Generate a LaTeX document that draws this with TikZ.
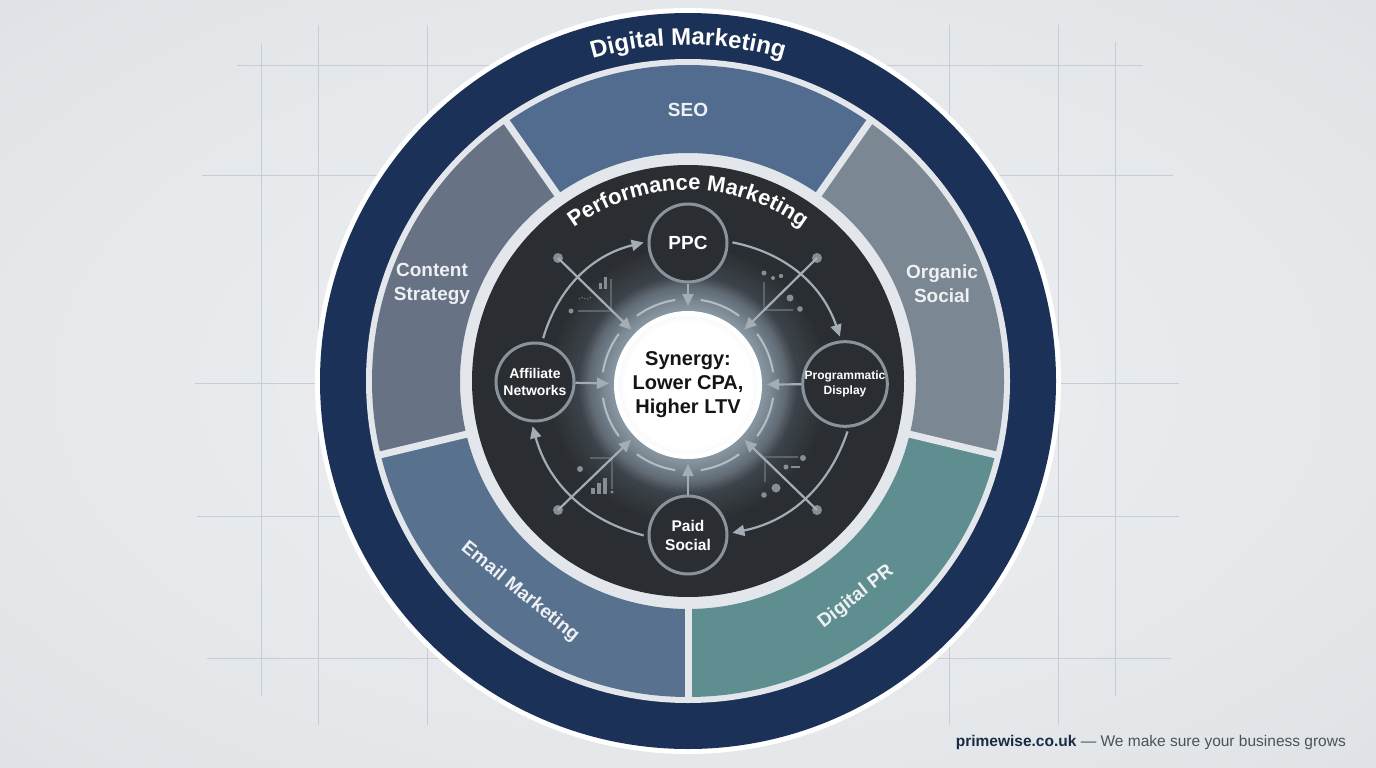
\documentclass[tikz,border=0pt]{standalone}
\usepackage{fontspec}
\setmainfont{Liberation Sans}
\usetikzlibrary{arrows.meta,decorations.text}
\definecolor{navy}{HTML}{1B3157}
\definecolor{gapc}{HTML}{E3E7EB}
\definecolor{seoc}{HTML}{516C8F}
\definecolor{contc}{HTML}{687285}
\definecolor{orgc}{HTML}{7B8793}
\definecolor{emailc}{HTML}{58718E}
\definecolor{dprc}{HTML}{5F8E90}
\definecolor{darkc}{HTML}{2A2D32}
\definecolor{nodeline}{HTML}{8A939C}
\definecolor{flowc}{HTML}{A3ADB6}
\definecolor{ringc}{HTML}{B4BEC7}
\definecolor{decor}{HTML}{858E97}
\definecolor{decline}{HTML}{5C656E}
\definecolor{gridc}{HTML}{C8CDD3}
\definecolor{segtext}{HTML}{EEF1F4}
\definecolor{footnavy}{HTML}{1B2A44}
\definecolor{footgray}{HTML}{4A525C}
\definecolor{glowc}{HTML}{AFC2D0}
\definecolor{ctredge}{HTML}{CFDBE3}
\definecolor{bgA}{HTML}{EEF0F2}
\definecolor{bgB}{HTML}{E3E6E9}
\definecolor{bgC}{HTML}{D2D7DC}
\pgfdeclareradialshading{ctrsh}{\pgfpointorigin}{color(0bp)=(white); color(22bp)=(white); color(35bp)=(ctredge); color(50bp)=(ctredge)}
\pgfdeclareradialshading{bgsh}{\pgfpointorigin}{color(0bp)=(bgA); color(30bp)=(bgB); color(50bp)=(bgC)}
\tikzset{
  gridln/.style={draw=gridc, line width=1pt},
  sat/.style={circle, draw=nodeline, line width=3pt, fill=darkc, text=white, align=center, minimum size=78pt, inner sep=0pt},
  ctr/.style={circle, draw=white, line width=5pt, shade, shading=ctrsh, minimum size=143pt, inner sep=0pt, align=center, text=black!92, font=\bfseries\fontsize{20pt}{24pt}\selectfont},
  flow/.style={draw=flowc, line width=2.2pt, -{Triangle[length=12pt,width=11pt]}},
  ringarc/.style={draw=ringc, line width=2pt},
  seglabel/.style={text=segtext, font=\bfseries\fontsize{19pt}{24pt}\selectfont, align=center, inner sep=0pt},
  decorline/.style={draw=decline, line width=1.6pt},
}
\begin{document}
\begin{tikzpicture}[x=1pt,y=-1pt]
\useasboundingbox (0,0) rectangle (1376,768);
\shade[shading=bgsh] (0,0) rectangle (1376,768);
% grid
\draw[gridln] (261,44) -- (261,696);
\draw[gridln] (318,25) -- (318,725);
\draw[gridln] (427,25) -- (427,725);
\draw[gridln] (949,25) -- (949,725);
\draw[gridln] (1058,25) -- (1058,725);
\draw[gridln] (1115,42) -- (1115,696);
\draw[gridln] (237,66) -- (1143,66);
\draw[gridln] (202,175) -- (1173,175);
\draw[gridln] (195,383) -- (1179,383);
\draw[gridln] (197,516) -- (1179,516);
\draw[gridln] (207,658) -- (1171,658);
% rings
\begin{scope}[shift={(688,381)}]
\fill[white] (0,0) circle (373pt);
\fill[navy] (0,0) circle (368pt);
\fill[gapc] (0,0) circle (322pt);
\fill[seoc] (55:316pt) arc[start angle=55,end angle=125,radius=316pt] -- (125:228pt) arc[start angle=125,end angle=55,radius=228pt] -- cycle;
\fill[contc] (125:316pt) arc[start angle=125,end angle=193.5,radius=316pt] -- (193.5:228pt) arc[start angle=193.5,end angle=125,radius=228pt] -- cycle;
\fill[emailc] (193.5:316pt) arc[start angle=193.5,end angle=270,radius=316pt] -- (270:228pt) arc[start angle=270,end angle=193.5,radius=228pt] -- cycle;
\fill[dprc] (270:316pt) arc[start angle=270,end angle=346.5,radius=316pt] -- (346.5:228pt) arc[start angle=346.5,end angle=270,radius=228pt] -- cycle;
\fill[orgc] (-13.5:316pt) arc[start angle=-13.5,end angle=55,radius=316pt] -- (55:228pt) arc[start angle=55,end angle=-13.5,radius=228pt] -- cycle;
\foreach \a in {55,125,193.5,270,346.5} \draw[gapc,line width=7pt] (\a:222pt) -- (\a:320pt);
\fill[darkc] (0,0) circle (216pt);
% curved titles
\path[decorate,decoration={text along path,text align=center,text={|\color{white}\bfseries\fontsize{24pt}{24pt}\selectfont|Digital Marketing}}] (150:336pt) arc[start angle=150,end angle=30,radius=336pt];
\path[decorate,decoration={text along path,text align=center,text={|\color{white}\bfseries\fontsize{22pt}{22pt}\selectfont|Performance Marketing}}] (150:191pt) arc[start angle=150,end angle=30,radius=191pt];
\end{scope}
% glow and ring around the centre
\begin{scope}[shift={(688,385)}]
\foreach \i in {0,...,19} \fill[glowc, opacity=0.06] (0,0) circle[radius={74pt+1.8pt*\i}];
\foreach \i in {0,...,7} \fill[glowc, opacity=0.025] (0,0) circle[radius={110pt+4pt*\i}];
\foreach \k in {0,...,7} \draw[ringarc] ({22.5+45*\k-14}:86pt) arc[start angle={22.5+45*\k-14}, end angle={22.5+45*\k+14}, radius=86pt];
\end{scope}
% segment labels
\node[seglabel] (seo) at (688,110) {SEO};
\node[seglabel] (cont) at (432,284) {Content\\Strategy};
\node[seglabel] (org) at (942,284) {Organic\\Social};
\node[seglabel, rotate=-39] (email) at (520,592) {Email Marketing};
\node[seglabel, rotate=38] (dpr) at (856,597) {Digital PR};
% decorations
\fill[decor] (599,283) rectangle (602,289);
\fill[decor] (604,277) rectangle (607,289);
\draw[decorline] (611,279) -- (611,311) -- (578,311);
\fill[decor] (571,311) circle (2.5pt);
\draw[decor,line width=1pt,dotted] (579,299) .. controls (583,294) and (585,303) .. (591,297);
\fill[decor] (764,273) circle (2.5pt);
\fill[decor] (773,278) circle (2pt);
\fill[decor] (781,276) circle (2.2pt);
\draw[decorline] (764,282) -- (764,310) -- (793,310);
\fill[decor] (790,298) circle (3.5pt);
\fill[decor] (800,309) circle (2.8pt);
\fill[decor] (580,469) circle (3pt);
\draw[decorline] (590,458) -- (612,458) -- (612,489);
\fill[decor] (591,488) rectangle (595,494);
\fill[decor] (597,483) rectangle (601,494);
\fill[decor] (603,478) rectangle (607,494);
\fill[decor] (612,492) circle (1.6pt);
\draw[decorline] (798,457) -- (765,457) -- (765,482);
\fill[decor] (803,458) circle (3pt);
\fill[decor] (786,467) circle (2.5pt);
\draw[decor,line width=2.5pt] (791,467) -- (800,467);
\fill[decor] (776,488) circle (4.5pt);
\fill[decor] (764,495) circle (2.8pt);
% nodes
\node[ctr] (syn) at (688,385) {Synergy:\\Lower CPA,\\Higher LTV};
\node[sat, font=\bfseries\fontsize{19pt}{22pt}\selectfont] (ppc) at (688,243) {PPC};
\node[sat, font=\bfseries\fontsize{15.5pt}{19pt}\selectfont] (paid) at (688,535) {Paid\\Social};
\node[sat, font=\bfseries\fontsize{14pt}{17pt}\selectfont] (aff) at (535,382) {Affiliate\\Networks};
\node[sat, minimum size=82pt, font=\bfseries\fontsize{12pt}{15pt}\selectfont] (prog) at (845,384) {Programmatic\\Display};
% arrows into the centre
\draw[flow, shorten >=5pt] (ppc) -- (syn);
\draw[flow, shorten >=5pt] (paid) -- (syn);
\draw[flow, shorten >=5pt] (aff) -- (syn);
\draw[flow, shorten >=5pt] (prog) -- (syn);
\coordinate (dtl) at (558,258);
\coordinate (dtr) at (817,258);
\coordinate (dbl) at (558,510);
\coordinate (dbr) at (817,510);
\foreach \d in {dtl,dtr,dbl,dbr} \fill[decor] (\d) circle (5pt);
\draw[flow, shorten >=5pt] (dtl) -- (syn);
\draw[flow, shorten >=5pt] (dtr) -- (syn);
\draw[flow, shorten >=5pt] (dbl) -- (syn);
\draw[flow, shorten >=5pt] (dbr) -- (syn);
% circular flow
\draw[flow, shorten <=4pt, shorten >=4pt] (aff.80) to[bend left=30] (ppc.178);
\draw[flow, shorten <=4pt, shorten >=4pt] (ppc.2) to[bend left=30] (prog.95);
\draw[flow, shorten <=4pt, shorten >=4pt] (prog.275) to[bend left=30] (paid.2);
\draw[flow, shorten <=4pt, shorten >=4pt] (paid.182) to[bend left=30] (aff.265);
% footer
\node[anchor=base east, inner sep=0pt, font=\fontsize{15.5pt}{18pt}\selectfont] (foot) at (1346,746) {\textcolor{footnavy}{\bfseries primewise.co.uk} \textcolor{footgray}{— We make sure your business grows}};
\end{tikzpicture}
\end{document}
